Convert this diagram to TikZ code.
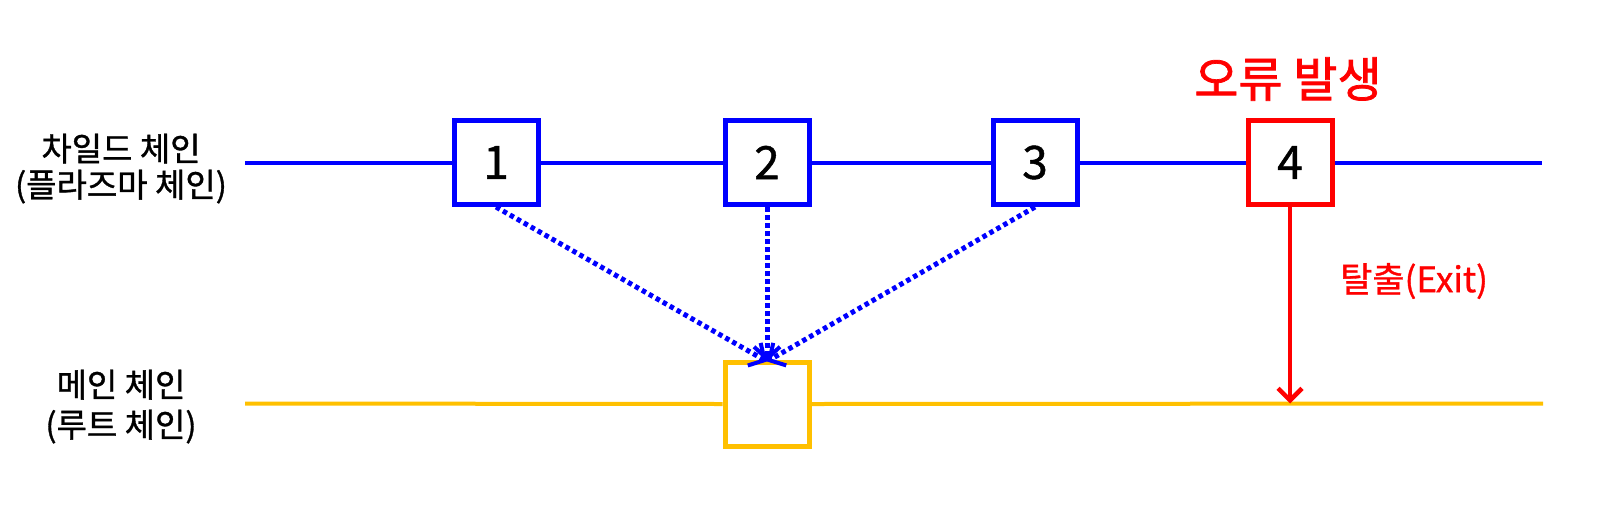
\documentclass[tikz,border=0pt]{standalone}
\usepackage{fontspec}
\setmainfont{Noto Sans CJK KR}[FakeBold=1]
\newfontfamily\redfont{Noto Sans CJK KR}[FakeBold=1.5]
\usetikzlibrary{arrows.meta}
\definecolor{cblue}{RGB}{0,0,255}
\definecolor{cred}{RGB}{255,0,0}
\definecolor{cgold}{RGB}{255,192,0}
\tikzset{
  blk/.style={draw=cblue,line width=5pt,minimum size=84pt,inner sep=0pt,fill=white,font=\fontsize{46}{46}\selectfont},
  redblk/.style={blk,draw=cred},
  goldblk/.style={blk,draw=cgold},
  bline/.style={cblue,line width=4pt},
  gline/.style={cgold,line width=4pt},
  dotarrow/.style={cblue,line width=5pt,dash pattern=on 4.5pt off 3.5pt,-{Straight Barb[length=12pt,width=26pt,line width=4pt]}},
  redarrow/.style={cred,line width=4.5pt,-{Straight Barb[length=12pt,width=24pt,line width=4.5pt]}},
  lbl/.style={anchor=base,font=\fontsize{33}{33}\selectfont,inner sep=0pt}
}
\begin{document}
\begin{tikzpicture}[x=1pt,y=-1pt]
\useasboundingbox (0,0) rectangle (1600,504);
% chain lines endpoints
\coordinate (bs) at (245,162.5);
\coordinate (be) at (1542,162.5);
\coordinate (gs) at (245,403.5);
\coordinate (ge) at (1543,403.5);
% boxes
\node[blk] (c1) at (496,162.5) {1};
\node[blk] (c2) at (767,162.5) {2};
\node[blk] (c3) at (1035,162.5) {3};
\node[redblk] (c4) at (1290,162.5) {4};
\node[goldblk] (m) at (767,404) {};
\coordinate (exitpt) at (1290,403.5);
% lines
\draw[bline] (bs) -- (c1.west);
\draw[bline] (c1.east) -- (c2.west);
\draw[bline] (c2.east) -- (c3.west);
\draw[bline] (c3.east) -- (c4.west);
\draw[bline] (c4.east) -- (be);
\draw[gline] (gs) -- (m.west);
\draw[gline] (m.east) -- (ge);
% dotted arrows
\draw[dotarrow] (c1.south) -- ([yshift=-2pt]m.north);
\draw[dotarrow] (c2.south) -- ([yshift=-2pt]m.north);
\draw[dotarrow] (c3.south) -- ([yshift=-2pt]m.north);
% red arrow
\draw[redarrow] (c4.south) -- (exitpt);
% labels
\node[lbl] (lc1) at (121,161) {차일드 체인};
\node[lbl] (lc2) at (121,197) {(플라즈마 체인)};
\node[lbl] (lm1) at (121,397) {메인 체인};
\node[lbl] (lm2) at (121,437) {(루트 체인)};
\node[font=\redfont\fontsize{48}{48}\selectfont,text=cred,inner sep=0pt] (err) at (1288,79) {오류 발생};
\node[font=\fontsize{35}{35}\selectfont,text=cred,inner sep=0pt,anchor=west] (ex) at (1340,281) {탈출(Exit)};
\end{tikzpicture}
\end{document}
